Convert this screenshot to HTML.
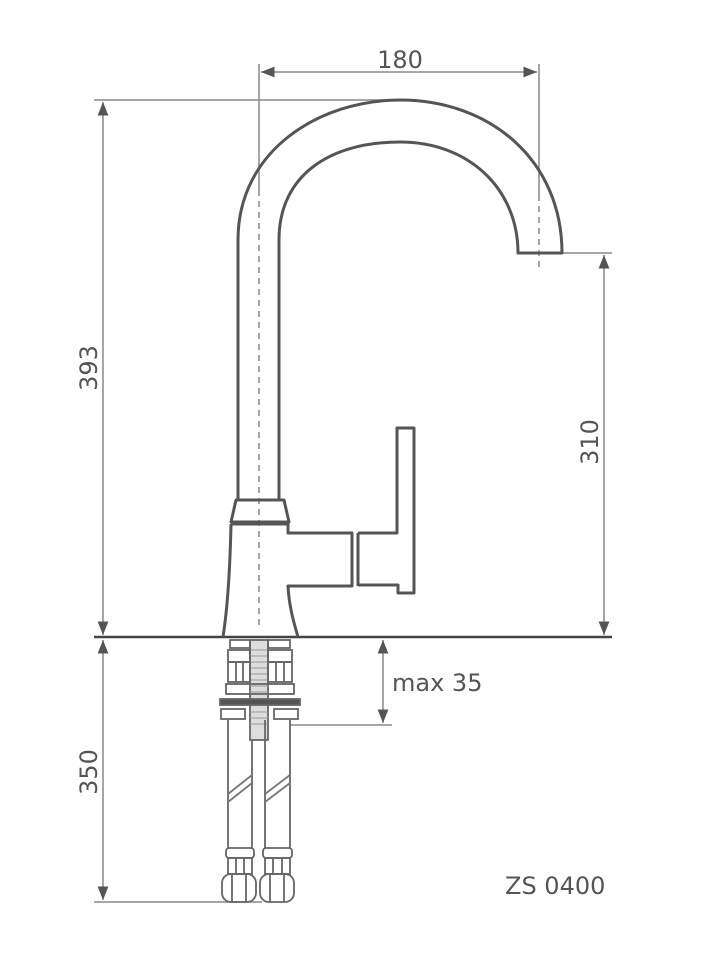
<!DOCTYPE html>
<html><head><style>
html,body{margin:0;padding:0;background:#fff;}
svg{display:block;}
text{font-family:"DejaVu Sans","Liberation Sans",sans-serif;fill:#555;}
</style></head><body>
<svg width="706" height="960" viewBox="0 0 706 960" xmlns="http://www.w3.org/2000/svg">
<defs>
<marker id="a" viewBox="0 0 10 10" refX="10" refY="5" markerWidth="9" markerHeight="9" orient="auto-start-reverse"><path d="M0,1 L10,5 L0,9 Z" fill="#555"/></marker>
</defs>
<g stroke="#888" stroke-width="1.5" fill="none">
<line x1="259" y1="64" x2="259" y2="190"/>
<line x1="539" y1="64" x2="539" y2="195"/>
<line x1="94" y1="100" x2="400" y2="100"/>
<line x1="560" y1="253" x2="612" y2="253"/>
<line x1="94" y1="902" x2="262" y2="902"/>
<line x1="290" y1="725" x2="392" y2="725"/>
<line x1="261" y1="72" x2="537" y2="72" marker-start="url(#a)" marker-end="url(#a)"/>
<line x1="103" y1="102" x2="103" y2="635" marker-start="url(#a)" marker-end="url(#a)"/>
<line x1="604" y1="255" x2="604" y2="635" marker-start="url(#a)" marker-end="url(#a)"/>
<line x1="103" y1="640" x2="103" y2="900" marker-start="url(#a)" marker-end="url(#a)"/>
<line x1="383" y1="640" x2="383" y2="723" marker-start="url(#a)" marker-end="url(#a)"/>
<line x1="259" y1="190" x2="259" y2="630" stroke-dasharray="6,5"/>
<line x1="539" y1="195" x2="539" y2="272" stroke-dasharray="6,5"/>
</g>
<line x1="94" y1="637" x2="612" y2="637" stroke="#444" stroke-width="2.5"/>
<g stroke="#555" stroke-width="3" fill="none" stroke-linejoin="round">
<path d="M238,500 L238,240 C238,150 320,100 400,100 C490,100 562,160 562,253 L518,253 C518,190 470,142 400,142 C330,142 279,175 279,240 L279,500"/>
<path d="M236,500 L284,500 L289,522 L231,522 Z"/>
<path d="M231,524 L288,524 L288,533 L352,533 L352,586 L288,586 C289,605 293,620 298,637"/>
<path d="M231,524 C230,570 228,605 223,637"/>
<line x1="358" y1="533" x2="358" y2="586"/>
<path d="M358,533 L397,533 L397,428 L414,428 L414,593 L398,593 L398,585 L358,585"/>
</g>
<g stroke="#666" stroke-width="1.8" fill="none">
<rect x="250" y="640" width="18" height="100" fill="#ddd"/>
<path d="M250,650 h18 M250,656 h18 M250,662 h18 M250,668 h18 M250,674 h18 M250,680 h18 M250,686 h18 M250,692 h18 M250,712 h18 M250,718 h18 M250,724 h18" stroke="#999" stroke-width="1"/>
<rect x="230" y="640" width="20" height="8"/><rect x="268" y="640" width="22" height="8"/>
<rect x="228" y="650" width="22" height="12"/><rect x="268" y="650" width="24" height="12"/>
<rect x="228" y="662" width="22" height="20"/><rect x="268" y="662" width="24" height="20"/>
<line x1="236" y1="662" x2="236" y2="682"/><line x1="243" y1="662" x2="243" y2="682"/>
<line x1="276" y1="662" x2="276" y2="682"/><line x1="284" y1="662" x2="284" y2="682"/>
<rect x="226" y="684" width="68" height="10"/>
<rect x="220" y="699" width="80" height="6" fill="#555"/>
<rect x="221" y="709" width="24" height="10"/><rect x="274" y="709" width="24" height="10"/>
<path d="M228,720 L228,848 M252,740 L252,848 M265,720 L265,848 M290,720 L290,848"/>
<path d="M228,794 L252,775 M228,802 L252,783 M265,794 L290,775 M265,802 L290,783" stroke="#777"/>
<rect x="226" y="848" width="28" height="10" rx="3"/><rect x="263" y="848" width="29" height="10" rx="3"/>
<rect x="228" y="858" width="24" height="16"/><rect x="265" y="858" width="25" height="16"/>
<path d="M236,858v16M244,858v16M273,858v16M282,858v16"/>
<rect x="222" y="874" width="34" height="28" rx="9"/><rect x="260" y="874" width="34" height="28" rx="9"/>
<path d="M232,874v28M246,874v28M270,874v28M284,874v28"/>
</g>
<text x="400" y="68" font-size="24" text-anchor="middle">180</text>
<text transform="translate(97,368) rotate(-90)" font-size="24" text-anchor="middle">393</text>
<text transform="translate(598,442) rotate(-90)" font-size="24" text-anchor="middle">310</text>
<text transform="translate(97,772) rotate(-90)" font-size="24" text-anchor="middle">350</text>
<text x="392" y="691" font-size="24">max 35</text>
<text x="505" y="894" font-size="24">ZS 0400</text>
</svg>
</body></html>
